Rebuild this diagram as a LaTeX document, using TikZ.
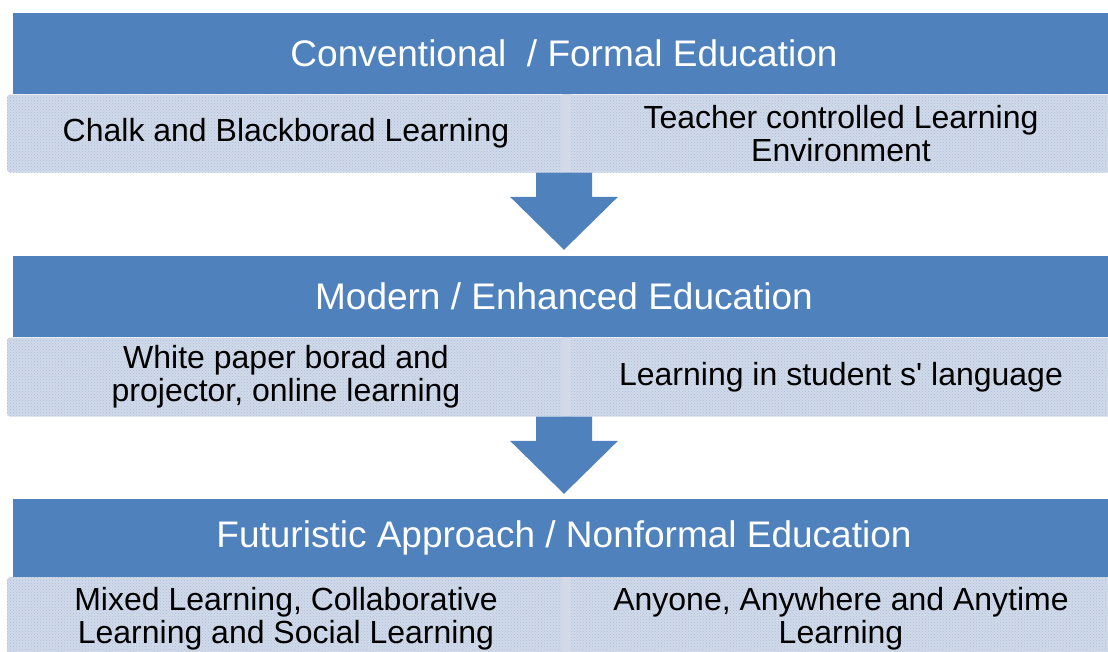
\documentclass[tikz,border=0pt]{standalone}
\usepackage{fontspec}
\setmainfont{Liberation Sans}
\usepackage{xcolor}
\usetikzlibrary{calc,patterns}
\definecolor{bandblue}{HTML}{4F81BD}
\definecolor{cellgray}{HTML}{D2DAE9}
\definecolor{celldots}{HTML}{A9BEDD}

\newcommand\blockdown[2]{%
  \fill[bandblue] ($(#1)+(-28,0)$) -- ($(#1)+(28,0)$) |- ($(#2)+(54,53)$) -- (#2) -- ($(#2)+(-54,53)$) -| cycle;}

\begin{document}
\begin{tikzpicture}[x=1pt, y=1pt, every node/.style={inner sep=0pt, align=center},%
        band/.style={fill=bandblue, text=white, minimum width=1102, minimum height=81, font=\fontsize{37}{40}\selectfont},
        cell/.style={fill=cellgray, rounded corners=3, minimum height=78, font=\fontsize{32}{33}\selectfont,
                postaction={pattern=crosshatch dots, pattern color=celldots}},
        gap/.style={fill=cellgray}]
    \clip (0,0) rectangle (1108,-651);
    \useasboundingbox (0,0) rectangle (1108,-651);

    % first stage
    \node[band] (conv) at (564,-53.5) {Conventional \ / Formal Education};
    \node[cell, minimum width=558] (chalk) at (286,-133.5) {Chalk and Blackborad Learning};
    \node[cell, minimum width=546] (teacher) at (841,-133.5) {Teacher controlled Learning\\Environment};
    \fill[gap] ($(chalk.north east)+(-3,0)$) rectangle ($(teacher.south west)+(3,0)$);

    % second stage
    \node[band] (modern) at (564,-296.5) {Modern / Enhanced Education};
    \node[cell, minimum width=558, minimum height=79] (paper) at (286,-377) {White paper borad and\\projector, online learning};
    \node[cell, minimum width=546, minimum height=79] (lang) at (841,-377) {Learning in student s\textquotesingle\ language};
    \fill[gap] ($(paper.north east)+(-3,0)$) rectangle ($(lang.south west)+(3,0)$);

    % third stage, cut off at the bottom
    \node[band, minimum height=78] (future) at (564,-538) {Futuristic Approach / Nonformal Education};
    \node[cell, minimum width=558, minimum height=84] (mixed) at (286,-619) {Mixed Learning, Collaborative\\Learning and Social Learning};
    \node[cell, minimum width=546, minimum height=84] (anyone) at (841,-619) {Anyone, Anywhere and Anytime\\Learning};
    \fill[gap] ($(mixed.north east)+(-3,0)$) rectangle ($(anyone.south west)+(3,0)$);

    \coordinate (top1) at (chalk.south -| conv.south);
    \coordinate (tip1) at ($(modern.north)+(0,6)$);
    \coordinate (top2) at (paper.south -| modern.south);
    \coordinate (tip2) at ($(future.north)+(0,5)$);
    \blockdown{top1}{tip1}
    \blockdown{top2}{tip2}
\end{tikzpicture}
\end{document}
